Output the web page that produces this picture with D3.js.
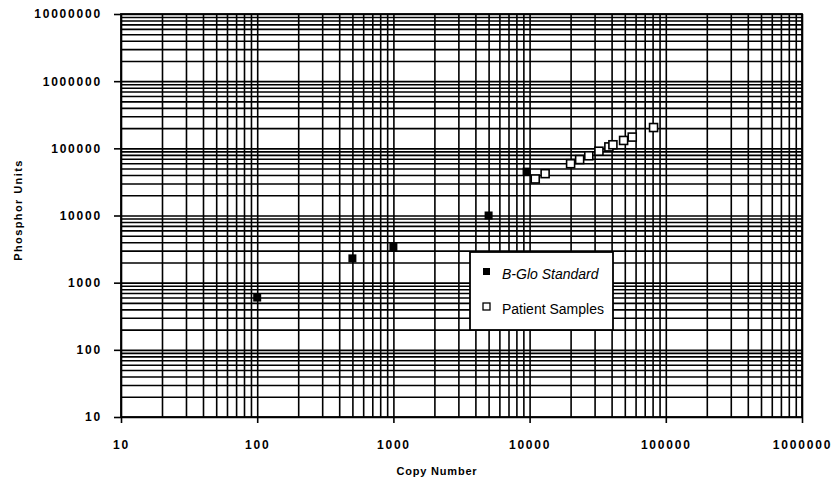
<!DOCTYPE html>
<html><head><meta charset="utf-8">
<script src="https://cdn.jsdelivr.net/npm/d3@7"></script>
<style>body{margin:0;background:#fff}</style>
</head><body><svg id="c" width="837" height="480"></svg>
<script>
const xTickLabels = ["10","100","1000","10000","100000","1000000"];
const yTickLabels = ["10","100","1000","10000","100000","1000000","10000000"];
const standardCopy = [100, 500, 1000, 5000, 9500];
const standardPhosphor = [600, 2300, 3400, 10000, 45000];
const patientCopy = [11000, 13000, 20000, 23300, 27200, 32300, 38200, 40900, 49000, 56700, 81300];
const patientPhosphor = [35000, 42000, 59000, 68000, 77500, 90600, 105000, 113000, 131000, 147000, 204000];
const seriesNames = ["B-Glo Standard", "Patient Samples"];

const svg = d3.select("#c");
const L = 121, R = 802, T = 14, B = 417;
const x = d3.scaleLog().domain([10, 1e6]).range([L, R]);
const y = d3.scaleLog().domain([10, 1e7]).range([B, T]);

function minorVals(lo, hi) {
  const v = [];
  for (let p = lo; p < hi; p *= 10) for (let m = 1; m < 10; m++) v.push(m * p);
  v.push(hi);
  return v;
}
const xVals = minorVals(10, 1e6), yVals = minorVals(10, 1e7);

const font = "'Liberation Sans', Arial, sans-serif";

// grid
const gx = svg.append("g").attr("transform", `translate(0,${B})`)
  .call(d3.axisBottom(x).tickValues(xVals).tickSize(-(B - T)).tickFormat(""));
const gy = svg.append("g").attr("transform", `translate(${L},0)`)
  .call(d3.axisLeft(y).tickValues(yVals).tickSize(-(R - L)).tickFormat(""));
[gx, gy].forEach(g => {
  g.select(".domain").remove();
  g.selectAll("line").attr("stroke", "#000").attr("stroke-width", 1.6);
});

// major axes
const ax = svg.append("g").attr("transform", `translate(0,${B})`)
  .call(d3.axisBottom(x).tickValues(xTickLabels.map(Number)).tickSize(6).tickPadding(17)
    .tickFormat((d, i) => xTickLabels[i]));
const ay = svg.append("g").attr("transform", `translate(${L},0)`)
  .call(d3.axisLeft(y).tickValues(yTickLabels.map(Number)).tickSize(7).tickPadding(12)
    .tickFormat((d, i) => yTickLabels[i]));
[ax, ay].forEach(g => {
  g.select(".domain").remove();
  g.selectAll("line").attr("stroke", "#000").attr("stroke-width", 1.6);
  g.selectAll("text").attr("fill", "#000").style("font-family", font)
    .style("font-size", "12px").style("font-weight", "bold").style("letter-spacing", "1.8px");
});

// frame
svg.append("rect").attr("x", L).attr("y", T).attr("width", R - L).attr("height", B - T)
  .attr("fill", "none").attr("stroke", "#000").attr("stroke-width", 1.8);

// axis titles
svg.append("text").attr("x", 437).attr("y", 475).attr("text-anchor", "middle")
  .style("font-family", font).style("font-size", "11px").style("font-weight", "bold")
  .style("letter-spacing", "0.8px").text("Copy Number");
svg.append("text").attr("transform", "translate(22,210) rotate(-90)").attr("text-anchor", "middle")
  .style("font-family", font).style("font-size", "11px").style("font-weight", "bold")
  .style("letter-spacing", "1.4px").text("Phosphor Units");

// data
const std = standardCopy.map((c, i) => ({c, p: standardPhosphor[i]}));
const pat = patientCopy.map((c, i) => ({c, p: patientPhosphor[i]}));
svg.append("g").selectAll("rect").data(std).join("rect")
  .attr("x", d => x(d.c) - 4).attr("y", d => y(d.p) - 4).attr("width", 8).attr("height", 8)
  .attr("fill", "#000");
svg.append("g").selectAll("rect").data(pat).join("rect")
  .attr("x", d => x(d.c) - 4).attr("y", d => y(d.p) - 4).attr("width", 8).attr("height", 8)
  .attr("fill", "#fff").attr("stroke", "#000").attr("stroke-width", 1.6);

// legend
const lg = svg.append("g");
lg.append("rect").attr("x", 470).attr("y", 252).attr("width", 143).attr("height", 78)
  .attr("fill", "#fff").attr("stroke", "#000").attr("stroke-width", 1.8);
lg.append("rect").attr("x", 483).attr("y", 268).attr("width", 7).attr("height", 7).attr("fill", "#000");
lg.append("rect").attr("x", 483).attr("y", 303).attr("width", 7).attr("height", 7)
  .attr("fill", "#fff").attr("stroke", "#000").attr("stroke-width", 1.3);
lg.append("text").attr("x", 502).attr("y", 279).style("font-family", font).style("font-size", "14px")
  .style("font-style", "italic").text(seriesNames[0]);
lg.append("text").attr("x", 502).attr("y", 314).style("font-family", font).style("font-size", "14px")
  .text(seriesNames[1]);
</script></body></html>
